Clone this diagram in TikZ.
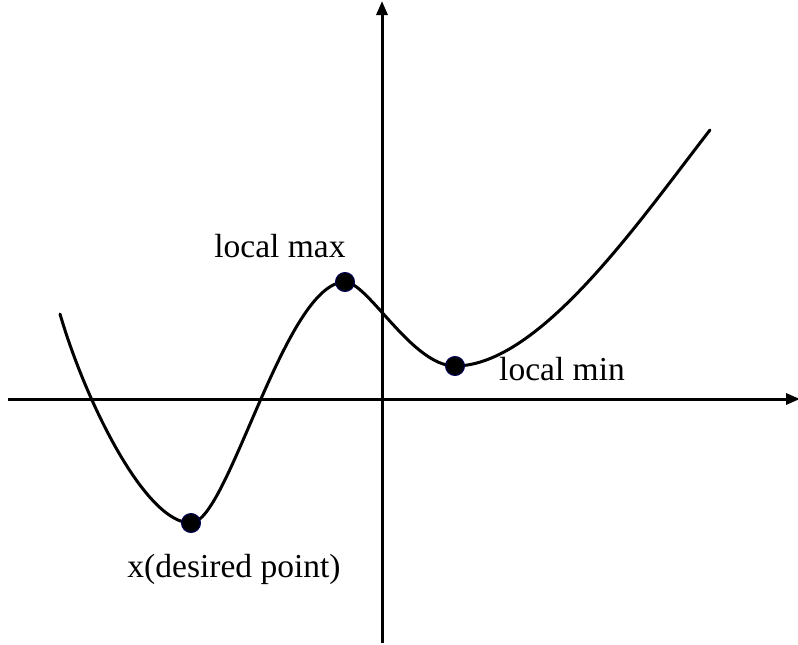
\documentclass[tikz,border=0pt]{standalone}
\usepackage{fontspec}
\setmainfont{Liberation Serif}
\usetikzlibrary{arrows.meta}

\tikzset{
  axis/.style={line width=3pt, -{Triangle[length=14pt,width=11pt]}},
  curveline/.style={line width=3pt, line cap=round},
  dot/.style={circle, fill=black, draw=blue!35!black, line width=1pt, minimum size=19pt, inner sep=0pt},
  lbl/.style={font=\fontsize{33.5}{40}\selectfont, inner sep=0pt}
}

\begin{document}
\begin{tikzpicture}[x=1pt, y=-1pt]
    \useasboundingbox (0,0) rectangle (798,645);
    % axes
    \coordinate (xl) at (8,399);
    \coordinate (xr) at (800,399);
    \coordinate (yb) at (382,643);
    \coordinate (yt) at (382,1);
    \draw[axis] (xl) -- (xr);
    \draw[axis] (yb) -- (yt);
    % curve
    \coordinate (start) at (60,314);
    \coordinate (stop) at (710,130);
    \coordinate (xmin) at (191,523);
    \coordinate (lmax) at (345,282);
    \coordinate (lmin) at (455,366);
    \draw[curveline] (start) .. controls (85,400) and (145,523) .. (xmin)
      .. controls (228,523) and (285,282) .. (lmax)
      .. controls (368,282) and (412,366) .. (lmin)
      .. controls (540,366) and (640,220) .. (stop);
    % points
    \node[dot] (dmax) at (lmax) {};
    \node[dot] (dmin) at (lmin) {};
    \node[dot] (dx) at (xmin) {};
    % labels
    \node[lbl, anchor=base] (tmax) at (280,257) {local max};
    \node[lbl, anchor=base west] (tmin) at (499,380) {local min};
    \node[lbl, anchor=base] (tx) at (234,577) {x(desired point)};
  \end{tikzpicture}
\end{document}
